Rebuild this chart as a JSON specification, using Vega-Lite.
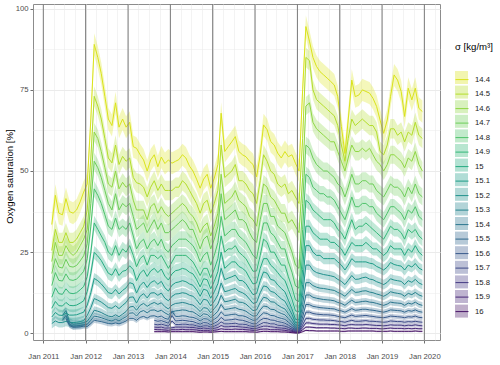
{
  "$schema": "https://vega.github.io/schema/vega-lite/v6.json",
  "width": 407,
  "height": 336,
  "autosize": {"type": "none"},
  "padding": {"left": 33, "top": 4, "right": 60, "bottom": 25},
  "background": "white",
  "config": {
    "font": "Liberation Sans",
    "view": {"stroke": "#8c8c8c", "strokeWidth": 1},
    "axis": {"domain": false, "labelFont": "Liberation Sans", "labelFontSize": 7.7, "labelColor": "#4d4d4d", "tickColor": "#4d4d4d", "tickSize": 3, "tickWidth": 0.8, "gridColor": "#ebebeb", "titleFont": "Liberation Sans", "titleFontWeight": "normal", "titleColor": "#000000"},
    "legend": {"labelFont": "Liberation Sans", "labelFontSize": 7.7, "labelColor": "#1a1a1a", "titleFont": "Liberation Sans", "titleFontSize": 9.6, "titleFontWeight": "normal", "titleColor": "#000000", "padding": 0, "rowPadding": 1.6, "labelOffset": 6, "titlePadding": 21.5}
  },
  "datasets": {
    "ox": [
      {"t":"2011-03-15","14.4":33.5,"14.5":25.5,"14.6":22.1,"14.7":18.4,"14.8":14.7,"14.9":11.1,"15":7.7,"15.1":5.0,"15.2":3.0},
      {"t":"2011-04-15","14.4":42.5,"14.5":32,"14.6":28,"14.7":23,"14.8":18.7,"14.9":14.0,"15":9.8,"15.1":6.4,"15.2":3.8},
      {"t":"2011-05-15","14.4":37,"14.5":28,"14.6":24,"14.7":20.4,"14.8":16.3,"14.9":12.2,"15":8.5,"15.1":5.6,"15.2":3.3},
      {"t":"2011-06-15","14.4":36.5,"14.5":28,"14.6":24,"14.7":20.1,"14.8":16.1,"14.9":12.0,"15":8.4,"15.1":5.5,"15.2":3.3,"15.3":5.5,"15.4":4.0},
      {"t":"2011-07-15","14.4":41.5,"14.5":31,"14.6":27,"14.7":22.8,"14.8":18.3,"14.9":13.7,"15":9.5,"15.1":6.2,"15.2":3.7,"15.3":7.0,"15.4":5.5,"15.5":4.5},
      {"t":"2011-08-15","14.4":37.5,"14.5":28,"14.6":25,"14.7":20.6,"14.8":16.5,"14.9":12.4,"15":8.6,"15.1":5.6,"15.2":3.4,"15.3":3.5,"15.4":2.8,"15.5":2.4},
      {"t":"2011-09-15","14.4":37,"14.5":28,"14.6":24,"14.7":20.4,"14.8":16.3,"14.9":12.2,"15":8.5,"15.1":5.6,"15.2":3.3,"15.3":2.8,"15.4":2.2,"15.5":1.9},
      {"t":"2011-10-15","14.4":38,"14.5":29,"14.6":25,"14.7":20.9,"14.8":16.7,"14.9":12.5,"15":8.7,"15.1":5.7,"15.2":3.4,"15.3":2.9,"15.4":2.3,"15.5":1.9},
      {"t":"2011-11-15","14.4":40.5,"14.5":31,"14.6":27,"14.7":22.3,"14.8":17.8,"14.9":13.4,"15":9.3,"15.1":6.1,"15.2":3.6,"15.3":3.0,"15.4":2.4,"15.5":2.0},
      {"t":"2011-12-15","14.4":43.5,"14.5":33,"14.6":29,"14.7":23.9,"14.8":19.1,"14.9":14.4,"15":10.0,"15.1":6.5,"15.2":3.9,"15.3":3.3,"15.4":2.6,"15.5":2.2},
      {"t":"2012-01-15","14.4":46,"14.5":38,"14.6":32,"14.7":27.6,"14.8":23,"14.9":17.5,"15":12.9,"15.1":8.7,"15.2":5.5,"15.3":3.7,"15.4":2.8,"15.5":2.1},
      {"t":"2012-02-15","14.4":66,"14.5":54,"14.6":46,"14.7":40,"14.8":33,"14.9":25,"15":18.5,"15.1":12.5,"15.2":7.9,"15.3":5.3,"15.4":4.0,"15.5":3.0},
      {"t":"2012-03-15","14.4":89,"14.5":73,"14.6":62,"14.7":53,"14.8":44.5,"14.9":34,"15":24.9,"15.1":16.9,"15.2":10.7,"15.3":7.1,"15.4":5.3,"15.5":4.0},
      {"t":"2012-04-15","14.4":85,"14.5":70,"14.6":60,"14.7":51,"14.8":42.5,"14.9":32,"15":23.8,"15.1":16.2,"15.2":10.2,"15.3":6.8,"15.4":5.1,"15.5":3.8},
      {"t":"2012-05-15","14.4":80,"14.5":66,"14.6":56,"14.7":48,"14.8":40,"14.9":30,"15":22.4,"15.1":15.2,"15.2":9.6,"15.3":6.4,"15.4":4.8,"15.5":3.6},
      {"t":"2012-06-15","14.4":73,"14.5":60,"14.6":51,"14.7":44,"14.8":36.5,"14.9":28,"15":20.4,"15.1":13.9,"15.2":8.8,"15.3":5.8,"15.4":4.4,"15.5":3.3},
      {"t":"2012-07-15","14.4":66,"14.5":54,"14.6":46,"14.7":40,"14.8":33,"14.9":25,"15":18.5,"15.1":12.5,"15.2":7.9,"15.3":5.3,"15.4":4.0,"15.5":3.0},
      {"t":"2012-08-15","14.4":64,"14.5":52.5,"14.6":45,"14.7":38,"14.8":32,"14.9":24,"15":17.9,"15.1":12.2,"15.2":7.7,"15.3":5.1,"15.4":3.8,"15.5":2.9},
      {"t":"2012-09-15","14.4":71,"14.5":58,"14.6":50,"14.7":43,"14.8":35.5,"14.9":27,"15":19.9,"15.1":13.5,"15.2":8.5,"15.3":5.7,"15.4":4.3,"15.5":3.2},
      {"t":"2012-10-15","14.4":63.5,"14.5":52,"14.6":44.5,"14.7":38,"14.8":32,"14.9":24,"15":17.8,"15.1":12.1,"15.2":7.6,"15.3":5.1,"15.4":3.8,"15.5":2.9},
      {"t":"2012-11-15","14.4":66,"14.5":54.5,"14.6":46.5,"14.7":40,"14.8":33,"14.9":26,"15":19.1,"15.1":13.2,"15.2":8.6,"15.3":5.9,"15.4":4.5,"15.5":3.3},
      {"t":"2012-12-15","14.4":63.5,"14.5":53,"14.6":45,"14.7":39,"14.8":32,"14.9":25,"15":19.4,"15.1":14.0,"15.2":9.5,"15.3":6.7,"15.4":5.1,"15.5":3.8},
      {"t":"2013-01-15","14.4":65,"14.5":54,"14.6":46,"14.7":40,"14.8":34,"14.9":27,"15":20.8,"15.1":15.6,"15.2":11.1,"15.3":8.1,"15.4":6.2,"15.5":4.6},
      {"t":"2013-02-15","14.4":57.5,"14.5":48,"14.6":41,"14.7":36,"14.8":30,"14.9":24,"15":19.6,"15.1":15.2,"15.2":11.2,"15.3":8.3,"15.4":6.3,"15.5":4.6},
      {"t":"2013-03-15","14.4":57,"14.5":46.4,"14.6":38,"14.7":32,"14.8":26,"14.9":20.5,"15":16.2,"15.1":12.4,"15.2":9.3,"15.3":7.1,"15.4":5.3,"15.5":4.0},
      {"t":"2013-04-15","14.4":55,"14.5":46,"14.6":38,"14.7":33,"14.8":28,"14.9":23,"15":18.5,"15.1":14.7,"15.2":11.4,"15.3":8.6,"15.4":6.6,"15.5":4.9},
      {"t":"2013-05-15","14.4":53.4,"14.5":45,"14.6":38,"14.7":34,"14.8":29,"14.9":24,"15":19.5,"15.1":15.8,"15.2":12.2,"15.3":9.2,"15.4":7.0,"15.5":5.2},
      {"t":"2013-06-15","14.4":50,"14.5":42,"14.6":35,"14.7":31,"14.8":26,"14.9":21,"15":17.5,"15.1":14.1,"15.2":10.9,"15.3":8.3,"15.4":6.3,"15.5":4.7},
      {"t":"2013-07-15","14.4":53.4,"14.5":45,"14.6":39,"14.7":33,"14.8":28,"14.9":24,"15":19.2,"15.1":15.6,"15.2":12.4,"15.3":9.0,"15.4":7.1,"15.5":5.3},
      {"t":"2013-08-15","14.4":55,"14.5":47,"14.6":40,"14.7":35,"14.8":29,"14.9":24,"15":20,"15.1":16.2,"15.2":12.5,"15.3":9.5,"15.4":7.2,"15.5":5.4,"15.6":4.0,"15.7":2.8,"15.8":1.9,"15.9":1.2,"16":0.5},
      {"t":"2013-09-15","14.4":51.3,"14.5":44,"14.6":37,"14.7":32,"14.8":27,"14.9":23,"15":18.7,"15.1":15.1,"15.2":11.7,"15.3":8.9,"15.4":6.7,"15.5":5.0,"15.6":3.7,"15.7":2.6,"15.8":1.8,"15.9":1.1,"16":0.5},
      {"t":"2013-10-15","14.4":54.3,"14.5":46,"14.6":39,"14.7":34,"14.8":29,"14.9":24,"15":19.8,"15.1":16.0,"15.2":12.4,"15.3":9.4,"15.4":7.1,"15.5":5.3,"15.6":3.9,"15.7":2.8,"15.8":1.9,"15.9":1.1,"16":0.5},
      {"t":"2013-11-15","14.4":52.3,"14.5":44,"14.6":37,"14.7":31,"14.8":26,"14.9":22,"15":17.6,"15.1":14.0,"15.2":10.8,"15.3":8.2,"15.4":6.3,"15.5":4.6,"15.6":3.5,"15.7":2.5,"15.8":1.6,"15.9":1.0,"16":0.5},
      {"t":"2013-12-15","14.4":53.4,"14.5":44,"14.6":36,"14.7":31,"14.8":25,"14.9":20,"15":16.4,"15.1":13.0,"15.2":10.0,"15.3":7.5,"15.4":5.7,"15.5":4.3,"15.6":3.1,"15.7":2.2,"15.8":1.6,"15.9":0.9,"16":0.4},
      {"t":"2014-01-15","14.4":52.4,"14.5":44,"14.6":37,"14.7":32,"14.8":27,"14.9":22,"15":18.3,"15.1":14.8,"15.2":11.4,"15.3":8.7,"15.4":6.6,"15.5":6.8,"15.6":5.5,"15.7":3.8,"15.8":1.7,"15.9":1.1,"16":0.5},
      {"t":"2014-02-15","14.4":53,"14.5":45,"14.6":38,"14.7":33,"14.8":28,"14.9":24,"15":19.3,"15.1":15.6,"15.2":12.1,"15.3":9.2,"15.4":6.9,"15.5":5.2,"15.6":3.8,"15.7":2.7,"15.8":1.9,"15.9":1.1,"16":0.5},
      {"t":"2014-03-15","14.4":53.5,"14.5":45,"14.6":39,"14.7":34,"14.8":29,"14.9":24,"15":19.5,"15.1":15.8,"15.2":12.2,"15.3":9.3,"15.4":7.0,"15.5":5.2,"15.6":3.9,"15.7":2.7,"15.8":1.9,"15.9":1.1,"16":0.5},
      {"t":"2014-04-15","14.4":55,"14.5":47,"14.6":40,"14.7":35,"14.8":29,"14.9":24,"15":20,"15.1":16.2,"15.2":12.5,"15.3":9.5,"15.4":7.2,"15.5":5.4,"15.6":4.0,"15.7":2.8,"15.8":1.9,"15.9":1.2,"16":0.5},
      {"t":"2014-05-15","14.4":54,"14.5":46,"14.6":39,"14.7":34,"14.8":29,"14.9":24,"15":19.7,"15.1":15.9,"15.2":12.3,"15.3":9.3,"15.4":7.1,"15.5":5.3,"15.6":3.9,"15.7":2.8,"15.8":1.9,"15.9":1.1,"16":0.5},
      {"t":"2014-06-15","14.4":51.5,"14.5":44,"14.6":37,"14.7":32,"14.8":28,"14.9":23,"15":18.8,"15.1":15.2,"15.2":11.7,"15.3":8.9,"15.4":6.7,"15.5":5.0,"15.6":3.7,"15.7":2.6,"15.8":1.8,"15.9":1.1,"16":0.5},
      {"t":"2014-07-15","14.4":50,"14.5":42,"14.6":36,"14.7":32,"14.8":27,"14.9":22,"15":18.3,"15.1":14.8,"15.2":11.4,"15.3":8.7,"15.4":6.6,"15.5":4.9,"15.6":3.6,"15.7":2.6,"15.8":1.8,"15.9":1.1,"16":0.5},
      {"t":"2014-08-15","14.4":47.5,"14.5":40,"14.6":34,"14.7":29,"14.8":25,"14.9":20,"15":16.6,"15.1":13.4,"15.2":10.3,"15.3":7.8,"15.4":5.9,"15.5":4.5,"15.6":3.2,"15.7":2.3,"15.8":1.6,"15.9":1.0,"16":0.4},
      {"t":"2014-09-15","14.4":44.7,"14.5":37,"14.6":31,"14.7":26,"14.8":22,"14.9":17.8,"15":14.3,"15.1":11.4,"15.2":8.8,"15.3":6.7,"15.4":5.1,"15.5":3.8,"15.6":2.8,"15.7":2.0,"15.8":1.4,"15.9":0.8,"16":0.3},
      {"t":"2014-10-15","14.4":47.5,"14.5":40,"14.6":33,"14.7":29,"14.8":24,"14.9":20,"15":16.8,"15.1":13.6,"15.2":10.5,"15.3":7.9,"15.4":6.0,"15.5":4.5,"15.6":3.3,"15.7":2.3,"15.8":1.6,"15.9":0.9,"16":0.4},
      {"t":"2014-11-15","14.4":49,"14.5":41,"14.6":34,"14.7":30,"14.8":25,"14.9":20,"15":16.5,"15.1":13.2,"15.2":10.2,"15.3":7.7,"15.4":5.8,"15.5":4.4,"15.6":3.2,"15.7":2.3,"15.8":1.5,"15.9":0.9,"16":0.4},
      {"t":"2014-12-15","14.4":44.7,"14.5":37,"14.6":30,"14.7":26,"14.8":21,"14.9":17.1,"15":13.7,"15.1":10.8,"15.2":8.4,"15.3":6.3,"15.4":4.8,"15.5":3.6,"15.6":2.6,"15.7":1.9,"15.8":1.3,"15.9":0.7,"16":0.3},
      {"t":"2015-01-15","14.4":47.8,"14.5":40,"14.6":33,"14.7":29,"14.8":24,"14.9":19.8,"15":16.0,"15.1":12.8,"15.2":9.9,"15.3":7.6,"15.4":5.7,"15.5":4.3,"15.6":3.1,"15.7":2.2,"15.8":1.5,"15.9":0.9,"16":0.4},
      {"t":"2015-02-15","14.4":52,"14.5":44,"14.6":37,"14.7":33,"14.8":28,"14.9":23,"15":19.0,"15.1":15.3,"15.2":11.9,"15.3":9.0,"15.4":6.8,"15.5":5.1,"15.6":3.7,"15.7":2.7,"15.8":1.8,"15.9":1.1,"16":0.5},
      {"t":"2015-03-15","14.4":67.8,"14.5":58,"14.6":49,"14.7":43,"14.8":36,"14.9":30,"15":25,"15.1":20,"15.2":15.5,"15.3":11.7,"15.4":8.9,"15.5":6.6,"15.6":4.9,"15.7":3.5,"15.8":2.4,"15.9":1.4,"16":0.6},
      {"t":"2015-04-15","14.4":56,"14.5":48,"14.6":40,"14.7":35,"14.8":30,"14.9":25,"15":20,"15.1":16.5,"15.2":12.8,"15.3":9.7,"15.4":7.3,"15.5":5.5,"15.6":4.0,"15.7":2.9,"15.8":2.0,"15.9":1.2,"16":0.5},
      {"t":"2015-05-15","14.4":57.5,"14.5":49,"14.6":41,"14.7":36,"14.8":31,"14.9":26,"15":21,"15.1":17.0,"15.2":13.1,"15.3":9.9,"15.4":7.5,"15.5":5.6,"15.6":4.1,"15.7":2.9,"15.8":2.0,"15.9":1.2,"16":0.5},
      {"t":"2015-06-15","14.4":59,"14.5":50,"14.6":42,"14.7":37,"14.8":32,"14.9":26,"15":22,"15.1":17.4,"15.2":13.5,"15.3":10.2,"15.4":7.7,"15.5":5.8,"15.6":4.2,"15.7":3.0,"15.8":2.1,"15.9":1.2,"16":0.5},
      {"t":"2015-07-15","14.4":60.6,"14.5":52,"14.6":44,"14.7":38,"14.8":32,"14.9":27,"15":22,"15.1":17.9,"15.2":13.8,"15.3":10.5,"15.4":7.9,"15.5":5.9,"15.6":4.4,"15.7":3.1,"15.8":2.1,"15.9":1.3,"16":0.5},
      {"t":"2015-08-15","14.4":56,"14.5":47,"14.6":41,"14.7":35,"14.8":30,"14.9":25,"15":20.6,"15.1":16.3,"15.2":12.9,"15.3":9.6,"15.4":7.4,"15.5":5.4,"15.6":4.1,"15.7":2.8,"15.8":2.0,"15.9":1.2,"16":0.5},
      {"t":"2015-09-15","14.4":55,"14.5":47,"14.6":40,"14.7":35,"14.8":29,"14.9":24,"15":20,"15.1":16.2,"15.2":12.5,"15.3":9.5,"15.4":7.2,"15.5":5.4,"15.6":4.0,"15.7":2.8,"15.8":1.9,"15.9":1.2,"16":0.5},
      {"t":"2015-10-15","14.4":54.4,"14.5":46,"14.6":39,"14.7":34,"14.8":28,"14.9":23,"15":19.1,"15.1":15.3,"15.2":11.8,"15.3":9.0,"15.4":6.8,"15.5":5.1,"15.6":3.7,"15.7":2.7,"15.8":1.8,"15.9":1.1,"16":0.5},
      {"t":"2015-11-15","14.4":53,"14.5":44,"14.6":36,"14.7":31,"14.8":26,"14.9":21,"15":17.0,"15.1":13.5,"15.2":10.5,"15.3":8.0,"15.4":6.0,"15.5":4.5,"15.6":3.3,"15.7":2.3,"15.8":1.6,"15.9":1.0,"16":0.4},
      {"t":"2015-12-15","14.4":52,"14.5":43,"14.6":35,"14.7":29,"14.8":24,"14.9":19.1,"15":15.2,"15.1":11.9,"15.2":9.2,"15.3":7.0,"15.4":5.3,"15.5":4.0,"15.6":2.9,"15.7":2.1,"15.8":1.4,"15.9":0.9,"16":0.4},
      {"t":"2016-01-15","14.4":48.2,"14.5":40,"14.6":33,"14.7":28,"14.8":23,"14.9":19.2,"15":15.5,"15.1":12.3,"15.2":9.5,"15.3":7.2,"15.4":5.4,"15.5":4.1,"15.6":3.0,"15.7":2.2,"15.8":1.5,"15.9":0.9,"16":0.3},
      {"t":"2016-02-15","14.4":55,"14.5":47,"14.6":40,"14.7":35,"14.8":29,"14.9":24,"15":20,"15.1":16.2,"15.2":12.5,"15.3":9.5,"15.4":7.2,"15.5":5.4,"15.6":4.0,"15.7":2.8,"15.8":1.9,"15.9":1.2,"16":0.5},
      {"t":"2016-03-15","14.4":64.2,"14.5":55,"14.6":46,"14.7":40,"14.8":34,"14.9":29,"15":23,"15.1":18.9,"15.2":14.6,"15.3":11.1,"15.4":8.4,"15.5":6.3,"15.6":4.6,"15.7":3.3,"15.8":2.2,"15.9":1.3,"16":0.6},
      {"t":"2016-04-15","14.4":62.7,"14.5":53,"14.6":45,"14.7":40,"14.8":34,"14.9":28,"15":23,"15.1":18.5,"15.2":14.3,"15.3":10.8,"15.4":8.2,"15.5":6.1,"15.6":4.5,"15.7":3.2,"15.8":2.2,"15.9":1.3,"16":0.6},
      {"t":"2016-05-15","14.4":59.1,"14.5":50,"14.6":42,"14.7":36,"14.8":31,"14.9":25,"15":21,"15.1":16.6,"15.2":12.9,"15.3":9.7,"15.4":7.4,"15.5":5.5,"15.6":4.1,"15.7":2.9,"15.8":2.0,"15.9":1.1,"16":0.5},
      {"t":"2016-06-15","14.4":58,"14.5":49,"14.6":41,"14.7":36,"14.8":30,"14.9":25,"15":20,"15.1":16.3,"15.2":12.6,"15.3":9.6,"15.4":7.3,"15.5":5.4,"15.6":4.0,"15.7":2.9,"15.8":1.9,"15.9":1.1,"16":0.5},
      {"t":"2016-07-15","14.4":55.5,"14.5":46,"14.6":39,"14.7":33,"14.8":28,"14.9":23,"15":18.7,"15.1":14.9,"15.2":11.6,"15.3":8.7,"15.4":6.6,"15.5":4.9,"15.6":3.6,"15.7":2.5,"15.8":1.7,"15.9":1.1,"16":0.5},
      {"t":"2016-08-15","14.4":54,"14.5":45,"14.6":37,"14.7":32,"14.8":26,"14.9":21,"15":17.3,"15.1":13.8,"15.2":10.6,"15.3":8.0,"15.4":6.1,"15.5":4.6,"15.6":3.4,"15.7":2.4,"15.8":1.6,"15.9":1.0,"16":0.4},
      {"t":"2016-09-15","14.4":56,"14.5":46,"14.6":37,"14.7":31,"14.8":26,"14.9":21,"15":16.3,"15.1":12.8,"15.2":9.9,"15.3":7.5,"15.4":5.7,"15.5":4.3,"15.6":3.1,"15.7":2.2,"15.8":1.5,"15.9":0.9,"16":0.4},
      {"t":"2016-10-15","14.4":54.4,"14.5":43,"14.6":34,"14.7":28,"14.8":22,"14.9":17.4,"15":13.5,"15.1":10.2,"15.2":7.9,"15.3":6.0,"15.4":4.5,"15.5":3.4,"15.6":2.5,"15.7":1.8,"15.8":1.2,"15.9":0.7,"16":0.3},
      {"t":"2016-11-15","14.4":55,"14.5":44,"14.6":35,"14.7":25,"14.8":18.8,"14.9":14.2,"15":10.5,"15.1":7.5,"15.2":5.8,"15.3":4.4,"15.4":3.3,"15.5":2.5,"15.6":1.8,"15.7":1.3,"15.8":0.9,"15.9":0.6,"16":0.2},
      {"t":"2016-12-15","14.4":52.4,"14.5":42,"14.6":33,"14.7":21,"14.8":14.6,"14.9":10.3,"15":6.9,"15.1":4.3,"15.2":3.3,"15.3":2.5,"15.4":1.9,"15.5":1.4,"15.6":1.1,"15.7":0.8,"15.8":0.5,"15.9":0.3,"16":0.1},
      {"t":"2017-01-15","14.4":50,"14.5":40,"14.6":31,"14.7":20,"14.8":13.9,"14.9":9.8,"15":6.6,"15.1":4.1,"15.2":3.2,"15.3":2.4,"15.4":1.8,"15.5":1.4,"15.6":1.0,"15.7":0.7,"15.8":0.5,"15.9":0.3,"16":0.1},
      {"t":"2017-02-15","14.4":75,"14.5":60,"14.6":48,"14.7":40,"14.8":32,"14.9":25,"15":19.7,"15.1":15.1,"15.2":11.7,"15.3":8.9,"15.4":6.7,"15.5":5.0,"15.6":3.7,"15.7":2.6,"15.8":1.8,"15.9":1.1,"16":0.5},
      {"t":"2017-03-15","14.4":94.5,"14.5":85,"14.6":70,"14.7":58,"14.8":49,"14.9":41,"15":33,"15.1":27,"15.2":21,"15.3":15.6,"15.4":11.8,"15.5":8.9,"15.6":6.5,"15.7":4.6,"15.8":3.2,"15.9":1.9,"16":0.9},
      {"t":"2017-04-15","14.4":90,"14.5":84,"14.6":71,"14.7":57,"14.8":48,"14.9":40,"15":33,"15.1":27,"15.2":21,"15.3":15.6,"15.4":11.8,"15.5":8.8,"15.6":6.5,"15.7":4.6,"15.8":3.2,"15.9":1.9,"16":0.8},
      {"t":"2017-05-15","14.4":85,"14.5":75,"14.6":65,"14.7":54,"14.8":45,"14.9":38,"15":31,"15.1":25,"15.2":19.4,"15.3":14.7,"15.4":11.1,"15.5":8.3,"15.6":6.1,"15.7":4.3,"15.8":3.0,"15.9":1.8,"16":0.8},
      {"t":"2017-06-15","14.4":82.2,"14.5":72,"14.6":63,"14.7":52,"14.8":44,"14.9":37,"15":30,"15.1":24,"15.2":18.7,"15.3":14.2,"15.4":10.8,"15.5":8.1,"15.6":5.9,"15.7":4.2,"15.8":2.9,"15.9":1.7,"16":0.7},
      {"t":"2017-07-15","14.4":80.6,"14.5":71,"14.6":62,"14.7":51,"14.8":43,"14.9":36,"15":29,"15.1":24,"15.2":18.4,"15.3":13.9,"15.4":10.6,"15.5":7.9,"15.6":5.8,"15.7":4.1,"15.8":2.8,"15.9":1.7,"16":0.7},
      {"t":"2017-08-15","14.4":79.6,"14.5":70,"14.6":61,"14.7":50,"14.8":43,"14.9":35,"15":29,"15.1":23,"15.2":18.1,"15.3":13.8,"15.4":10.4,"15.5":7.8,"15.6":5.7,"15.7":4.1,"15.8":2.8,"15.9":1.7,"16":0.7},
      {"t":"2017-09-15","14.4":78.6,"14.5":69,"14.6":60,"14.7":50,"14.8":42,"14.9":35,"15":29,"15.1":23,"15.2":17.9,"15.3":13.6,"15.4":10.3,"15.5":7.7,"15.6":5.7,"15.7":4.0,"15.8":2.8,"15.9":1.7,"16":0.7},
      {"t":"2017-10-15","14.4":77.6,"14.5":68,"14.6":59,"14.7":49,"14.8":42,"14.9":35,"15":28,"15.1":23,"15.2":17.7,"15.3":13.4,"15.4":10.2,"15.5":7.6,"15.6":5.6,"15.7":4.0,"15.8":2.7,"15.9":1.6,"16":0.7},
      {"t":"2017-11-15","14.4":76.5,"14.5":67,"14.6":59,"14.7":48,"14.8":41,"14.9":34,"15":28,"15.1":23,"15.2":17.4,"15.3":13.2,"15.4":10.0,"15.5":7.5,"15.6":5.5,"15.7":3.9,"15.8":2.7,"15.9":1.6,"16":0.7},
      {"t":"2017-12-15","14.4":72.9,"14.5":64,"14.6":56,"14.7":46,"14.8":39,"14.9":32,"15":27,"15.1":22,"15.2":16.6,"15.3":12.6,"15.4":9.5,"15.5":7.1,"15.6":5.2,"15.7":3.7,"15.8":2.6,"15.9":1.5,"16":0.7},
      {"t":"2018-01-15","14.4":63.7,"14.5":58,"14.6":53,"14.7":45,"14.8":37,"14.9":31,"15":26,"15.1":21,"15.2":16.0,"15.3":12.1,"15.4":9.2,"15.5":6.9,"15.6":5.0,"15.7":3.6,"15.8":2.5,"15.9":1.5,"16":0.6},
      {"t":"2018-02-15","14.4":55.4,"14.5":53,"14.6":50,"14.7":42,"14.8":35,"14.9":29,"15":24,"15.1":19.5,"15.2":15.0,"15.3":11.4,"15.4":8.6,"15.5":6.5,"15.6":4.8,"15.7":3.4,"15.8":2.3,"15.9":1.4,"16":0.6},
      {"t":"2018-03-15","14.4":65.7,"14.5":60,"14.6":54,"14.7":45,"14.8":38,"14.9":32,"15":26,"15.1":21,"15.2":16.3,"15.3":12.4,"15.4":9.4,"15.5":7.0,"15.6":5.2,"15.7":3.7,"15.8":2.6,"15.9":1.6,"16":0.7},
      {"t":"2018-04-15","14.4":78,"14.5":66,"14.6":58,"14.7":49,"14.8":42,"14.9":35,"15":28,"15.1":23,"15.2":17.8,"15.3":13.5,"15.4":10.2,"15.5":7.6,"15.6":5.6,"15.7":4.0,"15.8":2.7,"15.9":1.6,"16":0.7},
      {"t":"2018-05-15","14.4":72.9,"14.5":64,"14.6":56,"14.7":46,"14.8":39,"14.9":32,"15":27,"15.1":22,"15.2":16.6,"15.3":12.6,"15.4":9.5,"15.5":7.1,"15.6":5.2,"15.7":3.7,"15.8":2.6,"15.9":1.5,"16":0.7},
      {"t":"2018-06-15","14.4":73.4,"14.5":65,"14.6":56,"14.7":46,"14.8":39,"14.9":33,"15":27,"15.1":22,"15.2":16.7,"15.3":12.7,"15.4":9.6,"15.5":7.2,"15.6":5.3,"15.7":3.7,"15.8":2.6,"15.9":1.5,"16":0.7},
      {"t":"2018-07-15","14.4":75,"14.5":66,"14.6":57,"14.7":47,"14.8":40,"14.9":33,"15":27,"15.1":22,"15.2":17.1,"15.3":13.0,"15.4":9.8,"15.5":7.4,"15.6":5.4,"15.7":3.8,"15.8":2.6,"15.9":1.6,"16":0.7},
      {"t":"2018-08-15","14.4":74.5,"14.5":65,"14.6":56,"14.7":47,"14.8":40,"14.9":34,"15":28,"15.1":22,"15.2":17.3,"15.3":13.1,"15.4":9.9,"15.5":7.4,"15.6":5.5,"15.7":3.9,"15.8":2.7,"15.9":1.6,"16":0.7},
      {"t":"2018-09-15","14.4":74,"14.5":64,"14.6":57,"14.7":46,"14.8":39,"14.9":33,"15":27,"15.1":21.6,"15.2":16.7,"15.3":12.7,"15.4":9.6,"15.5":7.2,"15.6":5.3,"15.7":3.7,"15.8":2.6,"15.9":1.5,"16":0.7},
      {"t":"2018-10-15","14.4":72.4,"14.5":64,"14.6":55,"14.7":46,"14.8":39,"14.9":32,"15":26,"15.1":21.4,"15.2":16.5,"15.3":12.5,"15.4":9.5,"15.5":7.1,"15.6":5.2,"15.7":3.7,"15.8":2.5,"15.9":1.5,"16":0.7},
      {"t":"2018-11-15","14.4":69.9,"14.5":62,"14.6":53,"14.7":44,"14.8":37,"14.9":31,"15":26,"15.1":20.6,"15.2":15.9,"15.3":12.1,"15.4":9.2,"15.5":6.9,"15.6":5.0,"15.7":3.6,"15.8":2.4,"15.9":1.5,"16":0.6},
      {"t":"2018-12-15","14.4":65.7,"14.5":56,"14.6":52,"14.7":43,"14.8":36,"14.9":30,"15":25,"15.1":20.1,"15.2":15.5,"15.3":11.8,"15.4":8.9,"15.5":6.7,"15.6":4.9,"15.7":3.5,"15.8":2.4,"15.9":1.4,"16":0.6},
      {"t":"2019-01-15","14.4":61.6,"14.5":55,"14.6":50,"14.7":42,"14.8":35,"14.9":29,"15":24,"15.1":19.5,"15.2":15.0,"15.3":11.4,"15.4":8.6,"15.5":6.5,"15.6":4.8,"15.7":3.4,"15.8":2.3,"15.9":1.4,"16":0.6},
      {"t":"2019-02-15","14.4":65.7,"14.5":58,"14.6":52,"14.7":44,"14.8":37,"14.9":31,"15":25,"15.1":20.4,"15.2":15.7,"15.3":12.0,"15.4":9.0,"15.5":6.8,"15.6":5.0,"15.7":3.5,"15.8":2.4,"15.9":1.5,"16":0.6},
      {"t":"2019-03-15","14.4":72.9,"14.5":63,"14.6":55,"14.7":46,"14.8":39,"14.9":33,"15":27,"15.1":21.8,"15.2":16.8,"15.3":12.8,"15.4":9.6,"15.5":7.2,"15.6":5.3,"15.7":3.8,"15.8":2.6,"15.9":1.6,"16":0.7},
      {"t":"2019-04-15","14.4":79.6,"14.5":63,"14.6":55,"14.7":45,"14.8":39,"14.9":32,"15":26,"15.1":21.2,"15.2":16.4,"15.3":12.5,"15.4":9.4,"15.5":7.1,"15.6":5.2,"15.7":3.7,"15.8":2.5,"15.9":1.5,"16":0.6},
      {"t":"2019-05-15","14.4":78,"14.5":61,"14.6":54,"14.7":45,"14.8":38,"14.9":32,"15":26,"15.1":20.9,"15.2":16.2,"15.3":12.3,"15.4":9.3,"15.5":7.0,"15.6":5.1,"15.7":3.6,"15.8":2.5,"15.9":1.5,"16":0.6},
      {"t":"2019-06-15","14.4":74.5,"14.5":62,"14.6":53,"14.7":44,"14.8":37,"14.9":31,"15":26,"15.1":20.7,"15.2":16.0,"15.3":12.1,"15.4":9.2,"15.5":6.9,"15.6":5.0,"15.7":3.6,"15.8":2.5,"15.9":1.5,"16":0.6},
      {"t":"2019-07-15","14.4":66.8,"14.5":59,"14.6":51,"14.7":42,"14.8":35,"14.9":29,"15":24,"15.1":19.5,"15.2":15.0,"15.3":11.4,"15.4":8.6,"15.5":6.5,"15.6":4.8,"15.7":3.4,"15.8":2.3,"15.9":1.4,"16":0.6},
      {"t":"2019-08-15","14.4":75.5,"14.5":62,"14.6":54,"14.7":45,"14.8":38,"14.9":32,"15":26,"15.1":21.0,"15.2":16.2,"15.3":12.3,"15.4":9.3,"15.5":7.0,"15.6":5.1,"15.7":3.6,"15.8":2.5,"15.9":1.5,"16":0.6},
      {"t":"2019-09-15","14.4":71.9,"14.5":61,"14.6":53,"14.7":43,"14.8":37,"14.9":31,"15":25,"15.1":20.4,"15.2":15.7,"15.3":11.9,"15.4":9.0,"15.5":6.8,"15.6":5.0,"15.7":3.5,"15.8":2.4,"15.9":1.4,"16":0.6},
      {"t":"2019-10-15","14.4":75.5,"14.5":65,"14.6":56,"14.7":46,"14.8":39,"14.9":32,"15":27,"15.1":21.5,"15.2":16.6,"15.3":12.6,"15.4":9.6,"15.5":7.2,"15.6":5.3,"15.7":3.7,"15.8":2.6,"15.9":1.5,"16":0.7},
      {"t":"2019-11-15","14.4":69.3,"14.5":61,"14.6":52,"14.7":43,"14.8":36,"14.9":30,"15":25,"15.1":20.1,"15.2":15.5,"15.3":11.8,"15.4":8.9,"15.5":6.7,"15.6":4.9,"15.7":3.5,"15.8":2.4,"15.9":1.4,"16":0.6},
      {"t":"2019-12-15","14.4":68.3,"14.5":60,"14.6":50,"14.7":42,"14.8":35,"14.9":29,"15":24,"15.1":19.5,"15.2":15.0,"15.3":11.4,"15.4":8.6,"15.5":6.5,"15.6":4.8,"15.7":3.4,"15.8":2.3,"15.9":1.4,"16":0.6}
    ],
    "err": [
      {"s":"14.4","e":3.4},{"s":"14.5","e":3.0},{"s":"14.6","e":2.8},{"s":"14.7","e":2.6},{"s":"14.8","e":2.4},{"s":"14.9","e":2.2},{"s":"15","e":2.0},{"s":"15.1","e":1.7},{"s":"15.2","e":1.5},{"s":"15.3","e":1.2},{"s":"15.4","e":1.0},{"s":"15.5","e":0.8},{"s":"15.6","e":0.7},{"s":"15.7","e":0.6},{"s":"15.8","e":0.5},{"s":"15.9","e":0.35},{"s":"16","e":0.25}
    ],
    "yrs": [
      {"t":"2011-01-01"},{"t":"2012-01-01"},{"t":"2013-01-01"},{"t":"2014-01-01"},{"t":"2015-01-01"},{"t":"2016-01-01"},{"t":"2017-01-01"},{"t":"2018-01-01"},{"t":"2019-01-01"},{"t":"2020-01-01"}
    ]
  },
  "layer": [
    {
      "data": {"name": "ox"},
      "transform": [
        {"fold": ["14\\.4","14\\.5","14\\.6","14\\.7","14\\.8","14\\.9","15","15\\.1","15\\.2","15\\.3","15\\.4","15\\.5","15\\.6","15\\.7","15\\.8","15\\.9","16"], "as": ["s", "v"]},
        {"filter": "isValid(datum.v)"},
        {"lookup": "s", "from": {"data": {"name": "err"}, "key": "s", "fields": ["e"]}}
      ],
      "mark": {"type": "errorband", "band": {"opacity": 0.3}},
      "encoding": {
        "x": {"field": "t", "type": "temporal", "scale": {"type": "utc", "domain": [{"year": 2010, "month": 10, "date": 4, "utc": true}, {"year": 2020, "month": 5, "date": 15, "utc": true}], "nice": false}, "axis": {"title": null}},
        "y": {"field": "v", "type": "quantitative", "scale": {"domain": [-2.07, 101.45], "nice": false, "zero": false}, "axis": {"title": "Oxygen saturation [%]"}},
        "yError": {"field": "e"},
        "color": {
          "field": "s", "type": "nominal",
          "scale": {"domain": ["14.4","14.5","14.6","14.7","14.8","14.9","15","15.1","15.2","15.3","15.4","15.5","15.6","15.7","15.8","15.9","16"], "scheme": "viridis", "reverse": true},
          "legend": {"orient": "none", "legendX": 422, "legendY": 67, "title": null, "symbolType": "square", "symbolSize": 169, "symbolOpacity": 0.35, "symbolStrokeWidth": 0, "labelExpr": "''"}
        }
      }
    },
    {
      "data": {"name": "ox"},
      "transform": [
        {"fold": ["14\\.4","14\\.5","14\\.6","14\\.7","14\\.8","14\\.9","15","15\\.1","15\\.2","15\\.3","15\\.4","15\\.5","15\\.6","15\\.7","15\\.8","15\\.9","16"], "as": ["s", "v"]},
        {"filter": "isValid(datum.v)"}
      ],
      "mark": {"type": "line", "strokeWidth": 1},
      "encoding": {
        "x": {
          "field": "t", "type": "temporal",
          "scale": {"type": "utc", "domain": [{"year": 2010, "month": 10, "date": 4, "utc": true}, {"year": 2020, "month": 5, "date": 15, "utc": true}], "nice": false},
          "axis": {
            "title": null,
            "tickCount": {"interval": "month", "step": 3},
            "labelExpr": "utcmonth(datum.value) === 0 ? utcFormat(datum.value, '%b %Y') : ''",
            "tickOpacity": {"condition": {"test": "utcmonth(datum.value) === 0", "value": 1}, "value": 0},
            "gridWidth": {"condition": {"test": "utcmonth(datum.value) === 0", "value": 1}, "value": 0.6},
            "labelOverlap": false, "labelFlush": false, "labelBound": false, "labelPadding": 9
          }
        },
        "y": {
          "field": "v", "type": "quantitative",
          "scale": {"domain": [-2.07, 101.45], "nice": false, "zero": false},
          "axis": {
            "title": "Oxygen saturation [%]",
            "titleFontSize": 9.6,
            "titleX": -19, "titleY": 172, "titleAngle": 270, "titleAlign": "center", "titleBaseline": "bottom",
            "values": [0, 12.5, 25, 37.5, 50, 62.5, 75, 87.5, 100],
            "labelExpr": "datum.value % 25 === 0 ? format(datum.value, 'd') : ''",
            "tickOpacity": {"condition": {"test": "datum.value % 25 === 0", "value": 1}, "value": 0},
            "gridWidth": {"condition": {"test": "datum.value % 25 === 0", "value": 1}, "value": 0.5},
            "labelPadding": 2
          }
        },
        "stroke": {
          "field": "s", "type": "nominal",
          "scale": {"scheme": "viridis", "reverse": true},
          "legend": {"orient": "none", "legendX": 422, "legendY": 37.5, "title": "σ [kg/m³]", "symbolType": "stroke", "symbolSize": 169, "symbolStrokeWidth": 1, "rowPadding": 3.5}
        }
      }
    },
    {
      "data": {"name": "yrs"},
      "mark": {"type": "rule", "color": "#7a7a7a", "strokeWidth": 1},
      "encoding": {
        "x": {"field": "t", "type": "temporal", "scale": {"type": "utc", "domain": [{"year": 2010, "month": 10, "date": 4, "utc": true}, {"year": 2020, "month": 5, "date": 15, "utc": true}], "nice": false}}
      }
    }
  ]
}
